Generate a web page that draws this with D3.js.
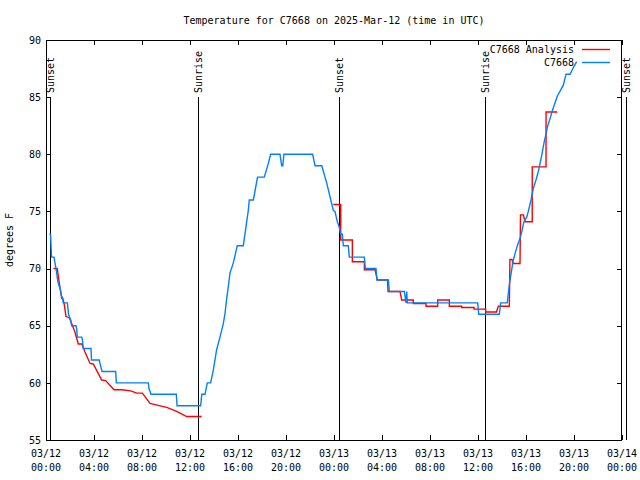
<!DOCTYPE html>
<html><head><meta charset="utf-8">
<script src="https://cdn.jsdelivr.net/npm/d3@7"></script>
<style>
html,body{margin:0;padding:0;background:#fff;}
text{font-family:"DejaVu Sans Mono",monospace;font-size:10px;fill:#000;}
</style></head>
<body>
<svg id="chart" width="640" height="480"></svg>
<script>
// ---- data (hours since 2025-03-12 00:00 UTC) ----
const xTickHours = [0,4,8,12,16,20,24,28,32,36,40,44,48];
const xTickDates = ["03/12","03/12","03/12","03/12","03/12","03/12","03/13","03/13","03/13","03/13","03/13","03/13","03/14"];
const xTickTimes = ["00:00","04:00","08:00","12:00","16:00","20:00","00:00","04:00","08:00","12:00","16:00","20:00","00:00"];
const yTicks = [55,60,65,70,75,80,85,90];

const sunsetHours = [0.39, 24.42, 48.39];
const sunriseHours = [12.69, 36.62];

// C7668 Analysis (red)
const anaHours = [0.62,0.94,1.03,1.17,1.31,1.39,1.50,1.67,1.94,2.14,2.42,2.69,2.98,3.25,3.67,3.94,4.64,4.97,5.67,6.31,7.06,7.56,8.03,8.67,9.08,10.06,10.89,11.72,12.97,
  18.0,
  23.94,24.56,24.56,25.53,25.53,26.53,26.53,27.42,27.61,28.47,28.50,29.50,29.64,30.61,30.61,31.67,31.67,32.64,32.64,33.61,33.61,34.64,34.64,35.67,35.67,36.64,36.64,37.54,37.69,38.61,38.66,38.83,38.94,39.50,39.54,39.78,39.92,40.52,40.52,41.67,41.67,42.61];
const anaTemps = [70.0,70.0,69.3,68.3,67.4,67.4,67.0,65.8,65.7,65.2,64.4,63.4,63.4,62.7,61.7,61.65,60.25,60.2,59.4,59.4,59.3,59.1,59.1,58.2,58.1,57.85,57.5,57.05,57.05,
  null,
  75.6,75.6,72.5,72.5,70.6,70.6,69.9,69.9,69.0,69.0,68.0,68.0,67.25,67.25,66.95,66.95,66.7,66.7,67.25,67.25,66.7,66.7,66.6,66.6,66.45,66.45,66.2,66.2,66.7,66.7,70.8,70.8,70.45,70.45,74.7,74.7,74.1,74.1,78.9,78.9,83.7,83.7];

// C7668 observations (blue)
const obsHours = [0.28,0.38,0.42,0.46,0.67,0.75,0.83,0.89,0.98,1.08,1.17,1.31,1.36,1.44,1.78,1.83,1.88,1.94,2.06,2.14,2.50,2.56,2.61,2.98,3.03,3.11,3.75,3.79,4.44,4.50,4.67,5.81,5.86,8.53,8.58,8.75,10.86,10.92,12.89,12.98,13.25,13.44,13.72,13.94,14.22,14.50,14.78,14.92,15.06,15.19,15.33,15.61,15.83,15.94,16.44,16.67,16.86,16.94,17.28,17.61,17.64,18.19,18.53,18.72,19.50,19.64,19.73,19.83,22.22,22.42,22.98,23.39,23.94,24.08,24.28,24.42,24.56,24.69,24.78,25.19,25.28,26.53,26.61,27.50,27.58,28.53,28.61,29.86,30.00,30.06,30.11,35.97,36.06,37.78,37.89,38.44,38.61,38.81,38.94,39.14,39.31,39.50,39.64,39.83,40.06,40.19,40.42,40.61,40.83,41.03,41.17,41.31,41.50,41.67,41.81,42.00,42.22,42.50,42.61,42.83,43.11,43.31,43.33,43.67,44.00,44.22];
const obsTemps = [73,73,72,71,71,70.5,70,69.6,68.9,68.5,68.3,67.5,67.5,67,67,66.5,66,65.8,65.5,65,65,64.7,64,64,63.8,63,63,62,62,61.7,61,61,60,60,59.5,59,59,58,58,59,59,60,60,61.1,62.9,64.0,65.2,66.1,67.4,68.4,69.6,70.5,71.5,72,72,73.7,75.1,76,76,77.9,78,78,79.2,80,80,79,79,80,80,79,79,77.5,75.1,75,74.1,73.7,73,73,72,72,71,71,70,70,69,69,68,68,67,68,67,67,66,66,67,67,68.6,69.9,70.75,71.5,72.1,72.6,73.2,74.1,74.5,75,76,77,77.75,78.5,79.2,79.9,81,81.8,82.5,83.1,83.9,84.75,85.1,85.5,86.05,86.9,87,87,87.7,88.1];

const seriesNames = ["C7668 Analysis","C7668"];
const seriesColors = ["#ff0000","#0080ff"];

// ---- layout ----
const L = 46, R = 622, T = 40, B = 440;
const svg = d3.select("#chart");
svg.append("rect").attr("width",640).attr("height",480).attr("fill","#fff");

const x = d3.scaleLinear().domain([0,48]).range([L,R]);
const y = d3.scaleLinear().domain([55,90]).range([B,T]);

// title
svg.append("text").attr("x",(L+R)/2).attr("y",24).attr("text-anchor","middle")
  .text("Temperature for C7668 on 2025-Mar-12 (time in UTC)");

// y label
svg.append("text").attr("transform","translate(13,240) rotate(-90)").attr("text-anchor","middle")
  .text("degrees F");

const minorHours = d3.range(0,49,1);

// bottom axis
const gB = svg.append("g").attr("transform",`translate(0,${B})`);
gB.call(d3.axisBottom(x).tickValues(minorHours).tickSizeInner(-3).tickSizeOuter(0).tickFormat(""));
gB.call(d3.axisBottom(x).tickValues(xTickHours).tickSizeInner(-5).tickSizeOuter(0).tickFormat(""));
gB.selectAll(".tick text").remove();
xTickHours.forEach((h,i)=>{
  const t = svg.append("text").attr("x",x(h)).attr("y",457).attr("text-anchor","middle");
  t.append("tspan").attr("x",x(h)).attr("y",457).text(xTickDates[i]);
  t.append("tspan").attr("x",x(h)).attr("y",471).text(xTickTimes[i]);
});
// top axis
const gT = svg.append("g").attr("transform",`translate(0,${T})`);
gT.call(d3.axisTop(x).tickValues(minorHours).tickSizeInner(-3).tickSizeOuter(0).tickFormat(""));
gT.call(d3.axisTop(x).tickValues(xTickHours).tickSizeInner(-5).tickSizeOuter(0).tickFormat(""));
// left axis
const gL = svg.append("g").attr("transform",`translate(${L},0)`);
gL.call(d3.axisLeft(y).tickValues(yTicks).tickSizeInner(-5).tickSizeOuter(0).tickPadding(5).tickFormat(d3.format("d")));
// right axis
const gR = svg.append("g").attr("transform",`translate(${R},0)`);
gR.call(d3.axisRight(y).tickValues(yTicks).tickSizeInner(-5).tickSizeOuter(0).tickFormat(""));

svg.selectAll(".domain").remove();
svg.selectAll(".tick line").attr("stroke","#000").attr("shape-rendering","crispEdges");
svg.selectAll(".tick text").style("font-family","'DejaVu Sans Mono',monospace").style("font-size","10px");

// border
svg.append("rect").attr("x",L+0.5).attr("y",T+0.5).attr("width",R-L-1).attr("height",B-T)
  .attr("fill","none").attr("stroke","#000").attr("shape-rendering","crispEdges");

// sunrise / sunset markers
const marks = sunsetHours.map(h=>({h,label:"Sunset"})).concat(sunriseHours.map(h=>({h,label:"Sunrise"})));
marks.forEach(m=>{
  const px = x(m.h);
  svg.append("line").attr("x1",px).attr("x2",px).attr("y1",97).attr("y2",B)
    .attr("stroke","#000").attr("stroke-width",1).attr("shape-rendering","crispEdges");
  svg.append("text").attr("transform",`translate(${px+3.5},93) rotate(-90)`).attr("text-anchor","start")
    .text(m.label);
});

// series
const line = d3.line().defined(d=>d[1]!==null).x(d=>x(d[0])).y(d=>y(d[1]));
const anaData = anaHours.map((h,i)=>[h,anaTemps[i]]);
const obsData = obsHours.map((h,i)=>[h,obsTemps[i]]);
svg.append("path").datum(anaData).attr("d",line).attr("fill","none")
  .attr("stroke",seriesColors[0]).attr("stroke-width",1.4);
svg.append("path").datum(obsData).attr("d",line).attr("fill","none")
  .attr("stroke",seriesColors[1]).attr("stroke-width",1.4);

// legend
seriesNames.forEach((n,i)=>{
  const yy = 49.5 + i*13;
  svg.append("text").attr("x",574).attr("y",yy+3.5).attr("text-anchor","end").text(n);
  svg.append("line").attr("x1",582).attr("x2",610).attr("y1",yy).attr("y2",yy)
    .attr("stroke",seriesColors[i]).attr("stroke-width",1.4);
});
</script>
</body></html>
